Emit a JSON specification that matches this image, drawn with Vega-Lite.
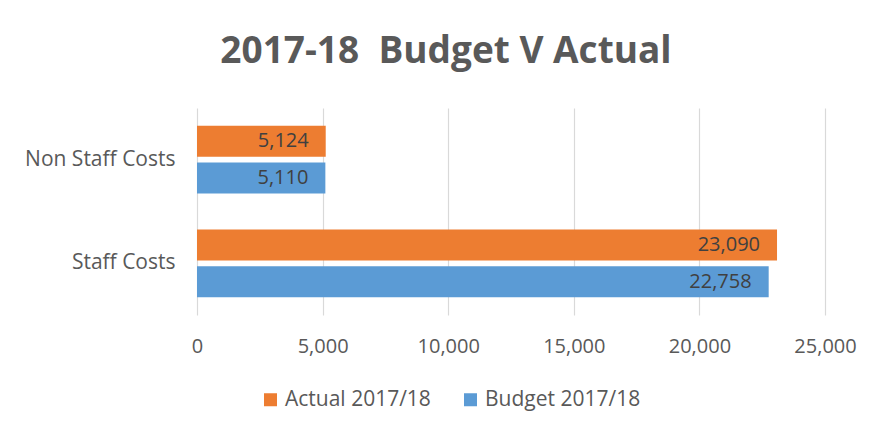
{
  "$schema": "https://vega.github.io/schema/vega-lite/v6.json",
  "autosize": {"type": "none"},
  "width": 628,
  "height": 207,
  "padding": {"left": 197, "top": 108, "right": 54, "bottom": 120},
  "background": "white",
  "config": {
    "font": "Open Sans",
    "view": {"stroke": null}
  },
  "title": {
    "text": "2017-18\u00a0 Budget V Actual",
    "font": "Open Sans",
    "fontSize": 37,
    "fontWeight": "bold",
    "color": "#595959",
    "anchor": "middle",
    "dx": -65,
    "offset": 37
  },
  "data": {
    "values": [
      {"category": "Non Staff Costs", "series": "Actual 2017/18", "value": 5124},
      {"category": "Non Staff Costs", "series": "Budget 2017/18", "value": 5110},
      {"category": "Staff Costs", "series": "Actual 2017/18", "value": 23090},
      {"category": "Staff Costs", "series": "Budget 2017/18", "value": 22758}
    ]
  },
  "encoding": {
    "y": {
      "field": "category",
      "type": "nominal",
      "sort": ["Non Staff Costs", "Staff Costs"],
      "scale": {"paddingInner": 0.346, "paddingOuter": 0.17},
      "axis": {
        "title": null,
        "domain": false,
        "ticks": false,
        "tickSize": 0,
        "labelPadding": 22,
        "labelFontSize": 21,
        "labelColor": "#595959",
        "labelFont": "Open Sans"
      }
    },
    "yOffset": {
      "field": "series",
      "type": "nominal",
      "sort": ["Actual 2017/18", "Budget 2017/18"],
      "scale": {"paddingInner": 0.16, "paddingOuter": 0}
    },
    "x": {
      "field": "value",
      "type": "quantitative",
      "scale": {"domain": [0, 25000], "nice": false},
      "axis": {
        "title": null,
        "values": [0, 5000, 10000, 15000, 20000, 25000],
        "format": ",.0f",
        "labelFlush": false,
        "labelOverlap": false,
        "domain": false,
        "ticks": false,
        "tickSize": 0,
        "grid": true,
        "gridColor": "#d9d9d9",
        "gridWidth": 1.2,
        "labelPadding": 21,
        "labelFontSize": 20,
        "labelColor": "#595959",
        "labelFont": "Open Sans"
      }
    }
  },
  "layer": [
    {
      "mark": {"type": "bar"},
      "encoding": {
        "color": {
          "field": "series",
          "type": "nominal",
          "scale": {
            "domain": ["Actual 2017/18", "Budget 2017/18"],
            "range": ["#ED7D31", "#5B9BD5"]
          },
          "legend": {
            "title": null,
            "orient": "none",
            "direction": "horizontal",
            "legendX": 63,
            "legendY": 281,
            "padding": 0,
            "symbolType": "square",
            "symbolSize": 169,
            "symbolStrokeWidth": 0,
            "labelFontSize": 21,
            "labelColor": "#595959",
            "labelFont": "Open Sans",
            "labelOffset": 4,
            "columnPadding": 29
          }
        }
      }
    },
    {
      "mark": {
        "type": "text",
        "align": "right",
        "baseline": "middle",
        "dx": -17,
        "fontSize": 20,
        "color": "#404040",
        "font": "Open Sans"
      },
      "encoding": {
        "text": {"field": "value", "type": "quantitative", "format": ",.0f"}
      }
    }
  ]
}
